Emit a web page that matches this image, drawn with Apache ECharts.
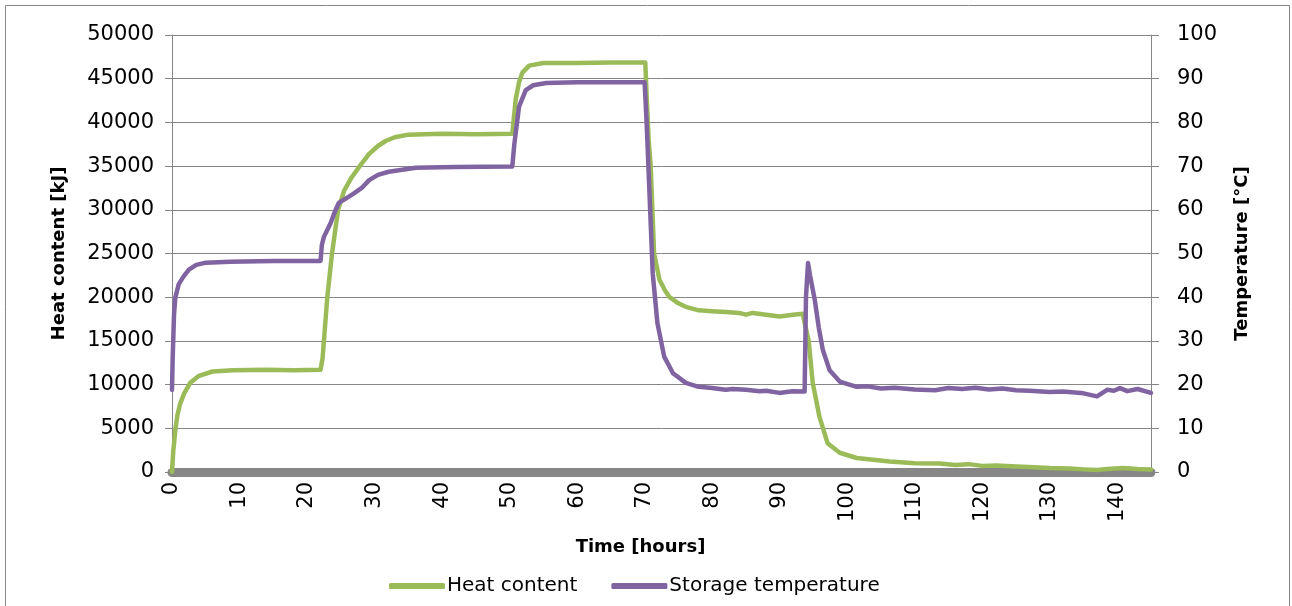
<!DOCTYPE html>
<html lang="en">
<head>
    <meta charset="UTF-8">
    <title>Heat content and storage temperature</title>
    <style>
        html, body { margin: 0; padding: 0; background: #fff; }
        #chart { width: 1292px; height: 606px; }
    </style>
</head>
<body>
<div id="chart"></div>
<script src="https://cdn.jsdelivr.net/npm/echarts@6/dist/echarts.min.js"></script>
<script>

    // heat content [kJ] against time [hours]
    var heatTime = [0, 0.2, 0.5, 0.8, 1.2, 1.8, 2.7, 4, 6, 9, 14, 18, 22,
        22.3, 23, 23.7, 24.6, 25.5, 26.6, 28, 29.2, 30.5, 31.7, 33, 35, 40, 45, 50.4,
        50.9, 51.4, 51.9, 52.9, 55, 60, 65, 70.1,
        70.3, 70.6, 70.9, 71.4, 72.2, 73, 73.7, 75, 76.1, 78, 80, 82, 84, 85, 86, 88, 90, 92, 93.4,
        94.3, 94.9, 95.9, 97.1, 98.9, 101.4, 106.3, 110, 113.7, 116, 118, 120, 122, 126, 130,
        133, 135, 137, 138.5, 140.9, 143, 145];
    var heatValues = [0, 2500, 4800, 6500, 7800, 9000, 10200, 11000, 11500, 11650, 11700, 11650, 11700,
        13000, 20000, 25000, 30000, 32200, 33700, 35200, 36400, 37300, 37900, 38300, 38600, 38700, 38650, 38700,
        42600, 44600, 45700, 46500, 46800, 46800, 46850, 46850,
        43000, 38000, 35000, 25000, 22000, 20800, 20000, 19300, 18900, 18500, 18400, 18300, 18200, 18000, 18200, 18000, 17800, 18000, 18100,
        15000, 10200, 6300, 3300, 2200, 1600, 1200, 1000, 970, 800, 900, 700, 750, 600, 450,
        400, 300, 230, 350, 450, 350, 300];

    // storage temperature [°C] against time [hours]
    var tempTime = [0, 0.1, 0.3, 0.5, 1, 1.7, 2.5, 3.6, 5, 8.6, 15, 22,
        22.2, 22.5, 23.5, 24.1, 24.7, 26.2, 27, 28.1, 29.2, 30.5, 32.1, 36.1, 42, 50.4,
        50.7, 51.4, 52.4, 53.5, 55.4, 60, 65, 70,
        70.3, 70.8, 71.2, 71.9, 72.9, 74.2, 76.1, 78, 80, 82, 83, 85, 87, 88, 90, 91, 92, 93.7,
        93.9, 94.2, 94.5, 95.2, 95.8, 96.4, 97.4, 98.9, 101.4, 103, 105, 107, 110, 113, 115, 117,
        119, 121, 123, 125, 127, 130, 132, 135, 137, 138.5, 139.5, 140.4, 141.5, 143, 145];
    var tempValues = [18.8, 26, 36, 40, 43, 44.7, 46.3, 47.4, 47.9, 48.1, 48.3, 48.3,
        52, 53.8, 57, 59.5, 61.6, 63, 63.8, 65, 66.8, 68, 68.7, 69.6, 69.8, 69.9,
        75, 83.6, 87.4, 88.5, 89, 89.2, 89.2, 89.2,
        79.9, 60.7, 45.5, 34, 26.4, 22.6, 20.4, 19.5, 19.2, 18.8, 19.0, 18.8, 18.5, 18.6, 18.1, 18.3, 18.5, 18.4,
        40, 47.8, 45, 39.4, 33, 27.9, 23.3, 20.7, 19.5, 19.6, 19.1, 19.3, 18.9, 18.7, 19.2, 19.0,
        19.3, 18.9, 19.1, 18.7, 18.6, 18.3, 18.4, 18.0, 17.3, 18.8, 18.6, 19.2, 18.5, 19.0, 18.1];

    var pairs = function (xs, ys) {
        return xs.map(function (x, i) { return [x, ys[i]]; });
    };

    var gray = '#868686';
    var font = 'DejaVu Sans';

    var chart = echarts.init(document.getElementById('chart'));

    var option = {
        animation: false,
        backgroundColor: '#fff',
        graphic: [{
            type: 'rect',
            shape: {x: 5.5, y: 5.5, width: 1284, height: 700},
            style: {fill: 'none', stroke: gray, lineWidth: 1},
            silent: true
        }],
        grid: {
            left: 172,
            right: 141,
            top: 35,
            bottom: 134,
            containLabel: false
        },
        legend: {
            left: 384,
            top: 571,
            icon: 'roundRect',
            itemWidth: 56,
            itemHeight: 6,
            itemGap: 34,
            textStyle: {fontFamily: font, fontSize: 20, color: '#000', padding: [0, 0, 0, -3]},
            data: ['Heat content', 'Storage temperature']
        },
        xAxis: {
            type: 'value',
            min: 0,
            max: 145,
            interval: 10,
            offset: 4,
            name: 'Time [hours]',
            nameLocation: 'middle',
            nameGap: 62,
            nameTextStyle: {fontFamily: font, fontSize: 18, fontWeight: 'bold', color: '#000', padding: [0, 42, 0, 0]},
            axisLine: {show: true, lineStyle: {color: gray, width: 9}},
            axisTick: {show: false},
            splitLine: {show: false},
            axisLabel: {rotate: 90, margin: 6, fontFamily: font, fontSize: 21, color: '#000',
                showMaxLabel: false}
        },
        yAxis: [{
            type: 'value',
            min: 0,
            max: 50000,
            interval: 5000,
            name: 'Heat content [kJ]',
            nameLocation: 'middle',
            nameGap: 104,
            nameTextStyle: {fontFamily: font, fontSize: 18, fontWeight: 'bold', color: '#000'},
            axisLine: {show: true, lineStyle: {color: gray, width: 1}},
            axisTick: {show: true, length: 7, lineStyle: {color: gray}},
            splitLine: {show: true, lineStyle: {color: gray, width: 1}},
            axisLabel: {
                margin: 18, fontFamily: font, fontSize: 21, color: '#000',
                formatter: function (v) { return String(v); }
            }
        }, {
            type: 'value',
            min: 0,
            max: 100,
            interval: 10,
            position: 'right',
            name: 'Temperature [°C]',
            nameLocation: 'middle',
            nameGap: 82,
            nameTextStyle: {fontFamily: font, fontSize: 18, fontWeight: 'bold', color: '#000'},
            axisLine: {show: true, lineStyle: {color: gray, width: 1}},
            axisTick: {show: true, length: 8, lineStyle: {color: gray}},
            splitLine: {show: false},
            axisLabel: {margin: 26, fontFamily: font, fontSize: 21, color: '#000'}
        }],
        series: [{
            name: 'Heat content',
            type: 'line',
            yAxisIndex: 0,
            showSymbol: false,
            color: '#9BBB59',
            lineStyle: {width: 4.5, cap: 'round', join: 'round'},
            data: pairs(heatTime, heatValues)
        }, {
            name: 'Storage temperature',
            type: 'line',
            yAxisIndex: 1,
            showSymbol: false,
            color: '#8064A2',
            lineStyle: {width: 4.5, cap: 'round', join: 'round'},
            data: pairs(tempTime, tempValues)
        }]
    };

    chart.setOption(option);

</script>
</body>
</html>
